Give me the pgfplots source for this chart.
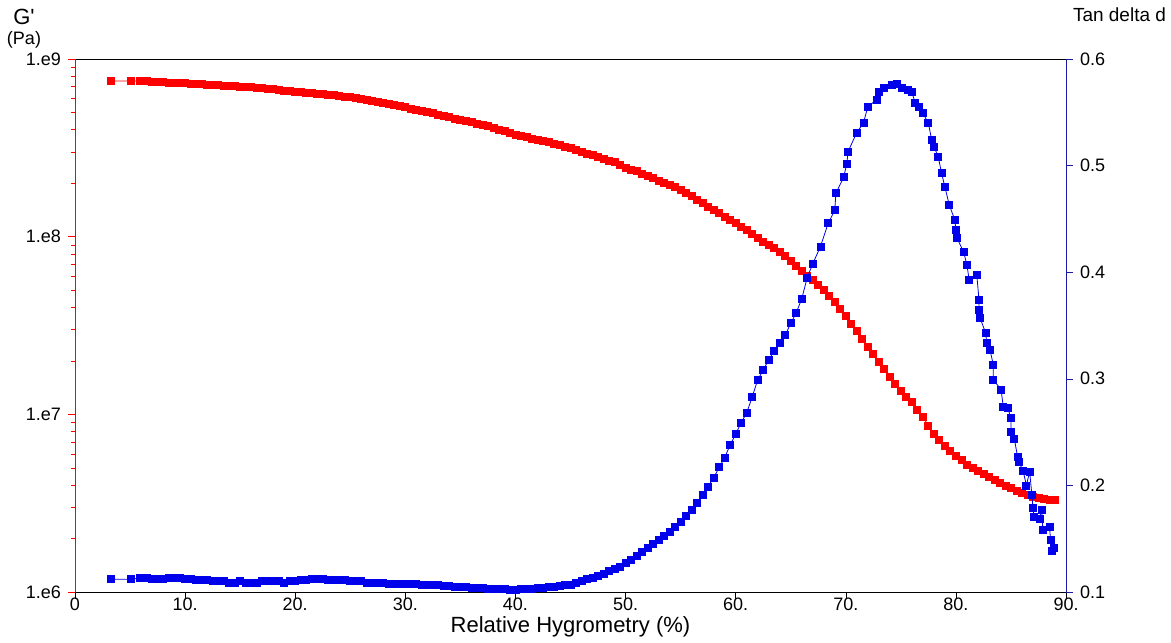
\documentclass[border=0pt]{standalone}
\usepackage{pgfplots}
\pgfplotsset{compat=1.18}
\usepackage{fontspec}
\setmainfont{Liberation Sans}
\newfontfamily\plainq{Liberation Sans}[Ligatures=TeXOff]
\definecolor{gred}{RGB}{255,0,0}
\definecolor{tblue}{RGB}{0,0,235}
\definecolor{axblue}{RGB}{25,25,165}
\begin{document}
\begin{tikzpicture}
\pgfplotsset{
  common/.style={scale only axis, width=495.5pt, height=266.5pt,
    xmin=0, xmax=90, tick align=outside,
    major tick length=3.5pt, minor tick length=2pt,
    tick label style={font=\fontsize{9}{10}\selectfont},
  },
}
\begin{axis}[common, name=ax,
  ymode=log, ymin=1e6, ymax=1e9,
  axis y line*=left,
  xtick pos=bottom,
  xtick={0,10,20,30,40,50,60,70,80,90},
  xticklabels={0,10.,20.,30.,40.,50.,60.,70.,80.,90.},
  xticklabel style={inner sep=1pt, yshift=1.5pt},
  ytick={1e6,1e7,1e8,1e9},
  yticklabels={1.e6,1.e7,1.e8,1.e9},
  minor ytick={2e6,3e6,4e6,5e6,6e6,7e6,8e6,9e6,2e7,3e7,4e7,5e7,6e7,7e7,8e7,9e7,2e8,3e8,4e8,5e8,6e8,7e8,8e8,9e8},
  y axis line style={gred},
  ytick style={gred},
  xtick style={black},
  x axis line style={black},
  xlabel={Relative Hygrometry (\%)},
  xlabel style={at={(axis description cs:0.5,0)}, anchor=base, inner sep=0pt, yshift=-20.5pt, font=\fontsize{11}{12}\selectfont},
]
\addplot[color=gred, line width=0.4pt, mark=square*, mark size=1.75pt, mark options={solid, draw=gred, fill=gred}]
table[row sep=\\] {
x y \\
3.27 7.52e8 \\ 5.1 7.52e8 \\ 5.9 7.50e8 \\ 6.5 7.48e8 \\ 7 7.46e8 \\ 7.5 7.45e8 \\ 8 7.41e8 \\ 8.5 7.38e8 \\
9 7.35e8 \\ 9.5 7.33e8 \\ 10 7.29e8 \\ 10.5 7.28e8 \\ 11 7.24e8 \\ 11.5 7.21e8 \\ 12 7.18e8 \\ 12.5 7.14e8 \\
13 7.11e8 \\ 13.5 7.08e8 \\ 14 7.05e8 \\ 14.5 7.01e8 \\ 15 6.98e8 \\ 15.5 6.95e8 \\ 16 6.92e8 \\ 16.5 6.89e8 \\
17 6.84e8 \\ 17.5 6.79e8 \\ 18 6.75e8 \\ 18.5 6.70e8 \\ 19 6.65e8 \\ 19.5 6.61e8 \\ 20 6.56e8 \\ 20.5 6.52e8 \\
21 6.47e8 \\ 21.5 6.43e8 \\ 22 6.38e8 \\ 22.5 6.34e8 \\ 23 6.28e8 \\ 23.5 6.24e8 \\ 24 6.18e8 \\ 24.5 6.14e8 \\
25 6.08e8 \\ 25.5 6.03e8 \\ 26 5.97e8 \\ 26.5 5.90e8 \\ 27 5.83e8 \\ 27.5 5.77e8 \\ 28 5.69e8 \\ 28.5 5.60e8 \\
29 5.51e8 \\ 29.5 5.42e8 \\ 30 5.35e8 \\ 30.5 5.27e8 \\ 31 5.19e8 \\ 31.5 5.11e8 \\ 32 5.02e8 \\ 32.5 4.94e8 \\
33 4.86e8 \\ 33.5 4.79e8 \\ 34 4.70e8 \\ 34.5 4.62e8 \\ 35 4.54e8 \\ 35.5 4.47e8 \\ 36 4.40e8 \\ 36.5 4.33e8 \\
37 4.26e8 \\ 37.5 4.18e8 \\ 38 4.09e8 \\ 38.5 4.01e8 \\ 39 3.92e8 \\ 39.5 3.84e8 \\ 40 3.75e8 \\ 40.5 3.69e8 \\
41 3.63e8 \\ 41.5 3.57e8 \\ 42 3.52e8 \\ 42.5 3.47e8 \\ 43 3.41e8 \\ 43.5 3.34e8 \\ 44 3.27e8 \\ 44.5 3.21e8 \\
45 3.14e8 \\ 45.5 3.08e8 \\ 46 3.01e8 \\ 46.5 2.94e8 \\ 47 2.88e8 \\ 47.5 2.81e8 \\ 48 2.74e8 \\ 48.5 2.68e8 \\
49 2.62e8 \\ 49.5 2.54e8 \\ 50 2.45e8 \\ 50.5 2.39e8 \\ 51 2.33e8 \\ 51.5 2.26e8 \\ 52 2.19e8 \\ 52.5 2.13e8 \\
53 2.07e8 \\ 53.5 2.01e8 \\ 54 1.95e8 \\ 54.5 1.90e8 \\ 55 1.84e8 \\ 55.5 1.76e8 \\ 56 1.69e8 \\ 56.5 1.61e8 \\
57 1.54e8 \\ 57.5 1.48e8 \\ 58 1.41e8 \\ 58.5 1.36e8 \\ 59 1.30e8 \\ 59.5 1.24e8 \\ 60 1.19e8 \\ 60.5 1.14e8 \\
61 1.09e8 \\ 61.5 1.035e8 \\ 62 9.82e7 \\ 62.5 9.38e7 \\ 63 8.97e7 \\ 63.5 8.61e7 \\ 64 8.26e7 \\ 64.5 7.76e7 \\
65 7.29e7 \\ 65.5 6.84e7 \\ 66 6.40e7 \\ 66.5 6.03e7 \\ 67 5.69e7 \\ 67.5 5.33e7 \\ 68 4.99e7 \\ 68.5 4.63e7 \\
69 4.30e7 \\ 69.5 3.92e7 \\ 70 3.56e7 \\ 70.5 3.24e7 \\ 71 2.93e7 \\ 71.5 2.66e7 \\ 72 2.41e7 \\ 72.5 2.19e7 \\
73 1.98e7 \\ 73.5 1.79e7 \\ 74 1.62e7 \\ 74.5 1.49e7 \\ 75 1.36e7 \\ 75.5 1.26e7 \\ 76 1.17e7 \\ 76.5 1.06e7 \\
77 9.66e6 \\ 77.5 8.65e6 \\ 78 7.76e6 \\ 78.5 7.19e6 \\ 79 6.68e6 \\ 79.5 6.24e6 \\ 80 5.82e6 \\ 80.5 5.51e6 \\
81 5.22e6 \\ 81.5 5.01e6 \\ 82 4.81e6 \\ 82.5 4.60e6 \\ 83 4.42e6 \\ 83.5 4.26e6 \\ 84 4.10e6 \\ 84.5 3.96e6 \\
85 3.84e6 \\ 85.5 3.72e6 \\ 86 3.61e6 \\ 86.5 3.53e6 \\ 87 3.45e6 \\ 87.5 3.40e6 \\ 88 3.35e6 \\ 88.5 3.32e6 \\
89 3.30e6 \\
};
\end{axis}
\begin{axis}[common,
  ymin=0.1, ymax=0.6,
  axis y line*=right,
  axis x line=none,
  ytick={0.1,0.2,0.3,0.4,0.5,0.6},
  yticklabels={0.1,0.2,0.3,0.4,0.5,0.6},
  y axis line style={axblue},
  ytick style={axblue},
]
\addplot[color=tblue, line width=0.4pt, mark=square*, mark size=1.75pt, mark options={solid, draw=tblue, fill=tblue}]
table[row sep=\\] {
x y \\
3.27 0.112 \\ 5.1 0.112 \\ 5.9 0.113 \\ 6.5 0.113 \\ 7 0.112 \\ 7.5 0.112 \\ 8 0.112 \\ 8.5 0.113 \\ 9 0.113 \\
9.5 0.113 \\ 10 0.112 \\ 10.5 0.112 \\ 11 0.111 \\ 11.5 0.111 \\ 12 0.111 \\ 12.5 0.110 \\ 13 0.110 \\ 13.5 0.110 \\
14 0.109 \\ 14.5 0.109 \\ 15 0.110 \\ 15.5 0.109 \\ 16 0.109 \\ 16.5 0.109 \\ 17 0.110 \\ 17.5 0.110 \\ 18 0.110 \\
18.5 0.110 \\ 19 0.109 \\ 19.5 0.110 \\ 20 0.110 \\ 20.5 0.111 \\ 21 0.111 \\ 21.5 0.112 \\ 22 0.112 \\ 22.5 0.112 \\
23 0.111 \\ 23.5 0.111 \\ 24 0.111 \\ 24.5 0.111 \\ 25 0.110 \\ 25.5 0.110 \\ 26 0.110 \\ 26.5 0.109 \\ 27 0.109 \\
27.5 0.109 \\ 28 0.109 \\ 28.5 0.108 \\ 29 0.108 \\ 29.5 0.108 \\ 30 0.108 \\ 30.5 0.108 \\ 31 0.108 \\ 31.5 0.107 \\
32 0.107 \\ 32.5 0.107 \\ 33 0.107 \\ 33.5 0.106 \\ 34 0.106 \\ 34.5 0.105 \\ 35 0.105 \\ 35.5 0.105 \\ 36 0.104 \\
36.5 0.104 \\ 37 0.104 \\ 37.5 0.103 \\ 38 0.103 \\ 38.5 0.103 \\ 39 0.103 \\ 39.5 0.102 \\ 40 0.102 \\ 40.5 0.103 \\
41 0.103 \\ 41.5 0.103 \\ 42 0.104 \\ 42.5 0.104 \\ 43 0.105 \\ 43.5 0.105 \\ 44 0.106 \\ 44.5 0.107 \\ 45 0.107 \\
45.5 0.109 \\ 46 0.110 \\ 46.5 0.112 \\ 47 0.113 \\ 47.5 0.115 \\ 48 0.117 \\ 48.5 0.120 \\ 49 0.122 \\ 49.5 0.124 \\
50 0.127 \\ 50.5 0.130 \\ 51 0.134 \\ 51.5 0.138 \\ 52 0.141 \\ 52.5 0.145 \\ 53 0.149 \\ 53.5 0.153 \\ 54 0.156 \\
54.5 0.161 \\ 55 0.166 \\ 55.5 0.171 \\ 56 0.177 \\ 56.5 0.184 \\ 57 0.191 \\ 57.5 0.199 \\ 58 0.207 \\ 58.5 0.217 \\
59 0.226 \\ 59.5 0.238 \\ 60 0.248 \\ 60.5 0.259 \\ 61 0.268 \\ 61.5 0.283 \\ 62 0.299 \\ 62.5 0.308 \\ 63 0.318 \\
63.5 0.326 \\ 64 0.334 \\ 64.5 0.341 \\ 65 0.352 \\ 65.5 0.362 \\ 66 0.375 \\ 66.5 0.395 \\ 67.0 0.408 \\
67.7 0.424 \\ 68.4 0.446 \\ 69.0 0.458 \\ 69.1 0.474 \\ 69.8 0.489 \\ 70.1 0.502 \\ 70.2 0.513 \\ 71.0 0.531 \\
71.6 0.540 \\ 72.0 0.555 \\ 72.8 0.562 \\ 73.0 0.569 \\ 73.5 0.573 \\ 74.2 0.576 \\ 74.6 0.577 \\ 75.1 0.573 \\
75.6 0.571 \\ 76.0 0.569 \\ 76.3 0.559 \\ 76.6 0.555 \\ 77.0 0.549 \\ 77.5 0.540 \\ 77.8 0.524 \\ 78.0 0.518 \\
78.4 0.508 \\ 78.7 0.493 \\ 79.0 0.480 \\ 79.4 0.463 \\ 79.9 0.449 \\ 80.0 0.440 \\ 80.1 0.432 \\ 80.7 0.419 \\
81.0 0.407 \\ 81.2 0.393 \\ 81.9 0.397 \\ 82.1 0.374 \\ 82.1 0.365 \\ 82.2 0.357 \\ 82.7 0.343 \\ 82.8 0.334 \\
83.1 0.327 \\ 83.4 0.313 \\ 83.4 0.299 \\ 84.1 0.290 \\ 84.3 0.274 \\ 84.7 0.273 \\ 85.0 0.263 \\ 85.0 0.250 \\
85.3 0.244 \\ 85.6 0.227 \\ 85.7 0.222 \\ 86.1 0.214 \\ 86.4 0.200 \\ 86.7 0.213 \\ 86.9 0.191 \\ 87.0 0.179 \\
87.1 0.170 \\ 87.6 0.169 \\ 87.8 0.177 \\ 87.9 0.158 \\ 88.5 0.161 \\ 88.6 0.149 \\ 88.7 0.139 \\ 88.9 0.141 \\
};
\end{axis}
\node[font=\fontsize{11}{12}\selectfont] at ([xshift=-25.5pt, yshift=21pt]ax.north west) {\plainq G'};
\node[font=\fontsize{9}{10}\selectfont] at ([xshift=-25.5pt, yshift=9.5pt]ax.north west) {(Pa)};
\node[font=\fontsize{9.5}{11}\selectfont] at ([xshift=26.75pt, yshift=22pt]ax.north east) {Tan delta d};
\pgfresetboundingbox
\path[use as bounding box] ([xshift=-37.5pt,yshift=-25pt]ax.south west) rectangle ([xshift=52.5pt,yshift=29.5pt]ax.north east);
\end{tikzpicture}
\end{document}
